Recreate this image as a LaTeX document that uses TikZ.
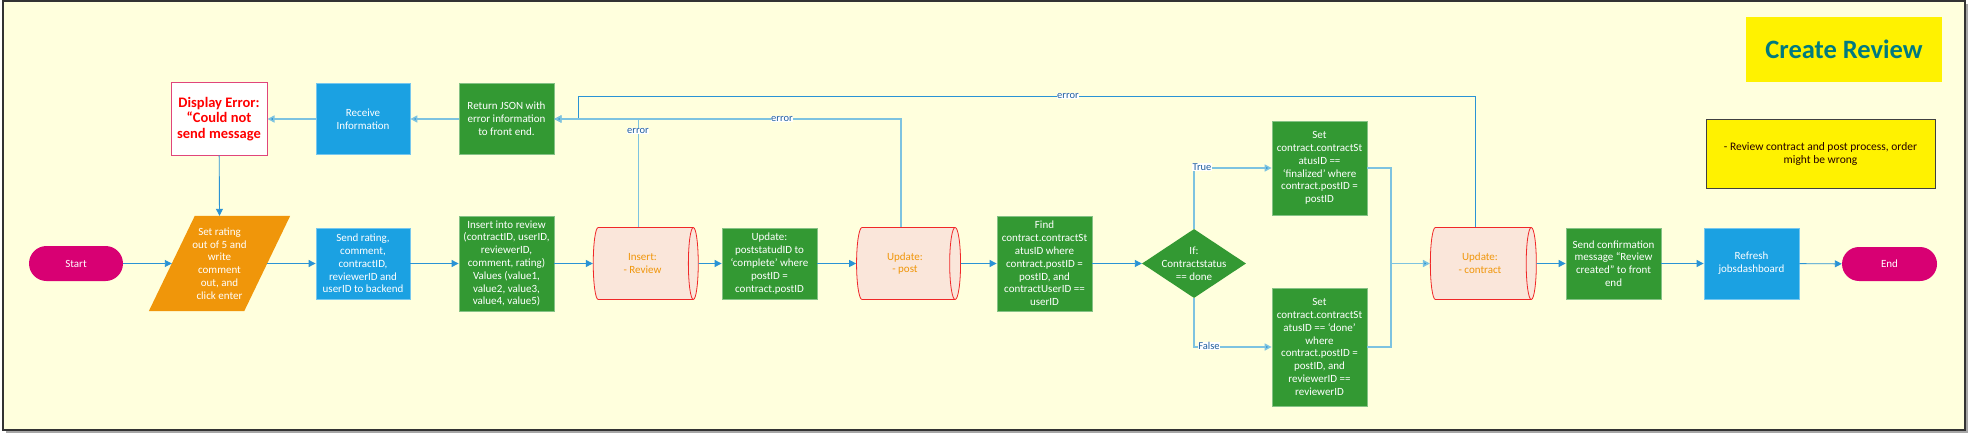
\documentclass[tikz,border=0pt]{standalone}
\usepackage{fontspec}
\setmainfont{Carlito}
\usetikzlibrary{shapes.geometric,shapes.misc,arrows.meta,backgrounds,calc}
\definecolor{bg}{HTML}{FFFFDD}
\definecolor{grn}{HTML}{339933}
\definecolor{blu}{HTML}{1BA1E2}
\definecolor{mag}{HTML}{D80073}
\definecolor{org}{HTML}{F0960A}
\definecolor{cylf}{HTML}{FAE6DA}
\definecolor{cylb}{HTML}{F02828}
\definecolor{errb}{HTML}{E0457B}
\definecolor{ln}{HTML}{2A93D5}
\definecolor{lnsoft}{HTML}{7DC3E0}
\definecolor{lbl}{HTML}{1F5E9E}
\definecolor{ttl}{HTML}{007A80}
\begin{document}
\begin{tikzpicture}[x=1pt,y=-1pt,
  font=\fontsize{11}{12.8}\selectfont,
  box/.style={rectangle, align=center, text=white, inner sep=0pt},
  gbox/.style={box, fill=grn, draw=grn!60!white, line width=0.8pt},
  bbox/.style={box, fill=blu, draw=blu!60!white, line width=0.8pt},
  term/.style={rounded rectangle, fill=mag, text=white, minimum width=94pt, minimum height=35pt, inner sep=0pt},
  cyl/.style={cylinder, shape border rotate=0, aspect=0.45, fill=cylf, draw=cylb, line width=0.8pt, text=org, align=center, inner sep=1pt, minimum width=72pt, minimum height=105pt},
  tip/.style={-{Triangle[length=7pt,width=7pt]}},
  flow/.style={draw=ln, line width=0.9pt, tip},
  soft/.style={draw=lnsoft, line width=1.5pt, -{Triangle[length=7pt,width=7pt,fill=ln]}},
  lab/.style={fill=white, text=lbl, inner sep=0.6pt, font=\fontsize{10.5}{12}\selectfont}
]
\useasboundingbox (0,0) rectangle (1969,433);
\begin{scope}[on background layer]
  \fill[black!35] (6,4) rectangle (1968,433);
  \draw[fill=bg, draw=black!80, line width=1.2pt] (3,1) rectangle (1965,430);
\end{scope}

% title and note
\node[fill=yellow, minimum width=196pt, minimum height=65pt, text=ttl, font=\bfseries\fontsize{26.5}{30}\selectfont] (title) at (1844,49.5) {Create Review};
\node[fill=yellow, draw=black!75, line width=1pt, minimum width=229pt, minimum height=68pt, align=center, text=black!85!red, font=\fontsize{11.5}{12.5}\selectfont] (note) at (1820.5,154) {- Review contract and post process, order\\might be wrong};

% main row
\node[term] (start) at (76,263.5) {Start};
\node[box, minimum width=95pt, minimum height=95pt] (par) at (219.5,263.5) {Set rating\\out of 5 and\\write\\comment\\out, and\\click enter};
\node[bbox, minimum width=94pt, minimum height=71pt] (send) at (363,263.5) {Send rating,\\comment,\\contractID,\\reviewerID and\\userID to backend};
\node[gbox, minimum width=95pt, minimum height=95pt] (ins) at (506.5,263.5) {Insert into review\\(contractID, userID,\\reviewerID,\\comment, rating)\\Values (value1,\\value2, value3,\\value4, value5)};
\node[cyl] (icyl) at (642.5,263.5) {Insert:\\- Review};
\node[gbox, minimum width=95pt, minimum height=71pt] (upd) at (769.5,263.5) {Update:\\poststatudID to\\‘complete’ where\\postID =\\contract.postID};
\node[cyl, minimum height=104pt] (pcyl) at (905,263.5) {Update:\\- post};
\node[gbox, minimum width=95pt, minimum height=95pt] (find) at (1044.5,263.5) {Find\\contract.contractSt\\atusID where\\contract.postID =\\postID, and\\contractUserID ==\\userID};
\node[diamond, fill=grn, minimum width=104pt, minimum height=69pt, inner sep=0pt,
  label={[text=white, align=center]center:{If:\\Contractstatus\\== done}}] (dia) at (1194,263.5) {};
\node[gbox, minimum width=95pt, minimum height=94pt] (setf) at (1319.5,168) {Set\\contract.contractSt\\atusID ==\\‘finalized’ where\\contract.postID =\\postID};
\node[gbox, minimum width=95pt, minimum height=118pt] (setd) at (1319.5,347) {Set\\contract.contractSt\\atusID == ‘done’\\where\\contract.postID =\\postID, and\\reviewerID ==\\reviewerID};
\node[cyl, minimum height=106pt] (ccyl) at (1480,263.5) {Update:\\- contract};
\node[gbox, minimum width=95pt, minimum height=71pt] (conf) at (1613.5,263.5) {Send confirmation\\message “Review\\created” to front\\end};
\node[bbox, minimum width=95pt, minimum height=71pt] (refr) at (1751.5,263.5) {Refresh\\jobsdashboard};
\node[term, minimum width=95pt, minimum height=34pt] (endn) at (1889.5,264) {End};

% upper row
\node[box, fill=white, draw=errb, line width=1pt, text=red, minimum width=96pt, minimum height=72pt, font=\bfseries\fontsize{14.5}{15.8}\selectfont] (disp) at (219,119) {Display Error:\\“Could not\\send message};
\node[bbox, minimum width=94pt, minimum height=71pt] (recv) at (363,119) {Receive\\Information};
\node[gbox, minimum width=95pt, minimum height=71pt] (ret) at (506.5,119) {Return JSON with\\error information\\to front end.};

% parallelogram shape
\begin{scope}[on background layer]
  \fill[org] ($(par.north west)+(23,0)$) -- ($(par.north east)+(23,0)$) -- ($(par.south east)+(-23,0)$) -- ($(par.south west)+(-23,0)$) -- cycle;
\end{scope}

% flow connectors
\draw[flow] (start) -- (par);
\draw[flow] (par) -- (send);
\draw[flow] (send) -- (ins);
\draw[flow] (ins) -- (icyl);
\draw[flow] (icyl) -- (upd);
\draw[flow] (upd) -- (pcyl);
\draw[flow] (pcyl) -- (find);
\draw[flow] (find) -- (dia);
\draw[flow] (ccyl) -- (conf);
\draw[flow] (conf) -- (refr);
\draw[flow] (refr) -- (endn);
\draw[soft] (ret) -- (recv);
\draw[soft] (recv) -- (disp);
\draw[flow] (disp) -- (par.north);

% decision
\draw[soft] (dia.north) |- (setf.west);
\draw[soft] (dia.south) |- (setd.west);
\node[lab] (ltrue) at (1202,167) {True};
\node[lab] (lfalse) at (1209,346) {False};
\coordinate (join) at (1391,263.5);
\draw[soft] (setf.east) -| (join) -- (ccyl.west);
\draw[draw=lnsoft, line width=1.5pt] (setd.east) -| (join);

% error paths
\coordinate (ecorner) at (578,96);
\draw[flow] ([xshift=-5pt]ccyl.north) |- (ecorner) |- (ret.east);
\draw[soft] ([xshift=-4pt]pcyl.north) |- (ret.east);
\draw[soft] ([xshift=-4pt]icyl.north) |- (ret.east);
\node[lab] (le1) at (638,131) {error};
\node[lab] (le2) at (782,119) {error};
\node[lab] (le3) at (1068,96) {error};
\end{tikzpicture}
\end{document}
